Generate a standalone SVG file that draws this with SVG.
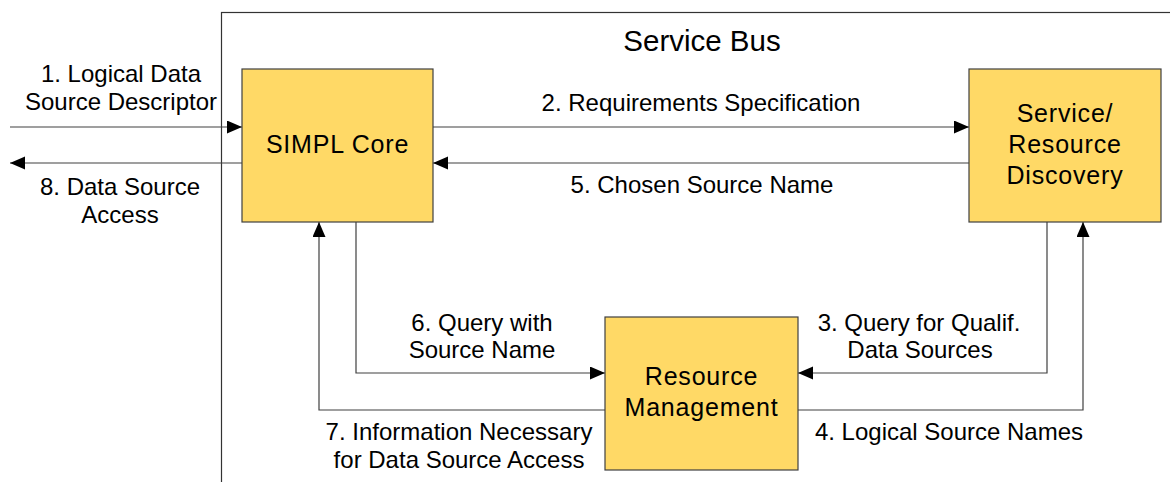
<svg xmlns="http://www.w3.org/2000/svg" width="1170" height="482" viewBox="0 0 1170 482">
  <style>
    .box { fill: #FFD966; stroke: #404040; stroke-width: 1.2; }
    .frame { fill: none; stroke: #333333; stroke-width: 1.2; }
    .conn { fill: none; stroke: #404040; stroke-width: 1.2; }
    .lbl { font-family: "Liberation Sans", Arial, sans-serif; font-size: 24px; fill: #000; text-anchor: middle; }
    .node { font-family: "Liberation Sans", Arial, sans-serif; font-size: 25px; letter-spacing: 0.8px; fill: #000; text-anchor: middle; }
    .title { font-family: "Liberation Sans", Arial, sans-serif; font-size: 29.5px; fill: #000; text-anchor: middle; }
  </style>
  <defs>
    <marker id="arrow" markerUnits="userSpaceOnUse" markerWidth="15" markerHeight="14" refX="15" refY="6.5" orient="auto">
      <path d="M0,0 L15,6.5 L0,13 z" fill="#000"/>
    </marker>
  </defs>

  <rect width="1170" height="482" fill="#ffffff"/>

  <!-- service bus container -->
  <g id="service-bus">
    <rect class="frame" x="221.5" y="12.5" width="1000" height="520"/>
    <text class="title" x="702" y="51">Service Bus</text>
  </g>

  <!-- connectors -->
  <g id="connectors">
    <!-- 1 / 8: external interface -->
    <line class="conn" x1="10" y1="127" x2="242" y2="127" marker-end="url(#arrow)"/>
    <line class="conn" x1="242" y1="163" x2="10" y2="163" marker-end="url(#arrow)"/>
    <!-- 2 / 5: core <-> discovery -->
    <line class="conn" x1="433" y1="127" x2="969" y2="127" marker-end="url(#arrow)"/>
    <line class="conn" x1="969" y1="163" x2="433" y2="163" marker-end="url(#arrow)"/>
    <!-- 3: discovery -> resource management -->
    <polyline class="conn" points="1047,222 1047,373 798,373" marker-end="url(#arrow)"/>
    <!-- 4: resource management -> discovery -->
    <polyline class="conn" points="798,410 1083,410 1083,222" marker-end="url(#arrow)"/>
    <!-- 6: core -> resource management -->
    <polyline class="conn" points="356,222 356,373 605,373" marker-end="url(#arrow)"/>
    <!-- 7: resource management -> core -->
    <polyline class="conn" points="605,410 319,410 319,222" marker-end="url(#arrow)"/>

    <text class="lbl" x="121" y="82">1. Logical Data</text>
    <text class="lbl" x="121" y="110">Source Descriptor</text>
    <text class="lbl" x="120" y="195">8. Data Source</text>
    <text class="lbl" x="120" y="223">Access</text>
    <text class="lbl" x="701" y="111">2. Requirements Specification</text>
    <text class="lbl" x="702" y="193">5. Chosen Source Name</text>
    <text class="lbl" x="919" y="331">3. Query for Qualif.</text>
    <text class="lbl" x="920" y="358">Data Sources</text>
    <text class="lbl" x="949" y="440">4. Logical Source Names</text>
    <text class="lbl" x="482" y="331">6. Query with</text>
    <text class="lbl" x="482" y="358">Source Name</text>
    <text class="lbl" x="459" y="440">7. Information Necessary</text>
    <text class="lbl" x="459" y="468">for Data Source Access</text>
  </g>

  <g id="simpl-core">
    <rect class="box" x="242" y="69" width="191" height="153"/>
    <text class="node" x="337.5" y="153">SIMPL Core</text>
  </g>

  <g id="discovery">
    <rect class="box" x="969" y="69" width="192" height="153"/>
    <text class="node" x="1065" y="122">Service/</text>
    <text class="node" x="1065" y="153">Resource</text>
    <text class="node" x="1065" y="184">Discovery</text>
  </g>

  <g id="resource-management">
    <rect class="box" x="605" y="317" width="193" height="153"/>
    <text class="node" x="701.5" y="385">Resource</text>
    <text class="node" x="701.5" y="416">Management</text>
  </g>
</svg>
